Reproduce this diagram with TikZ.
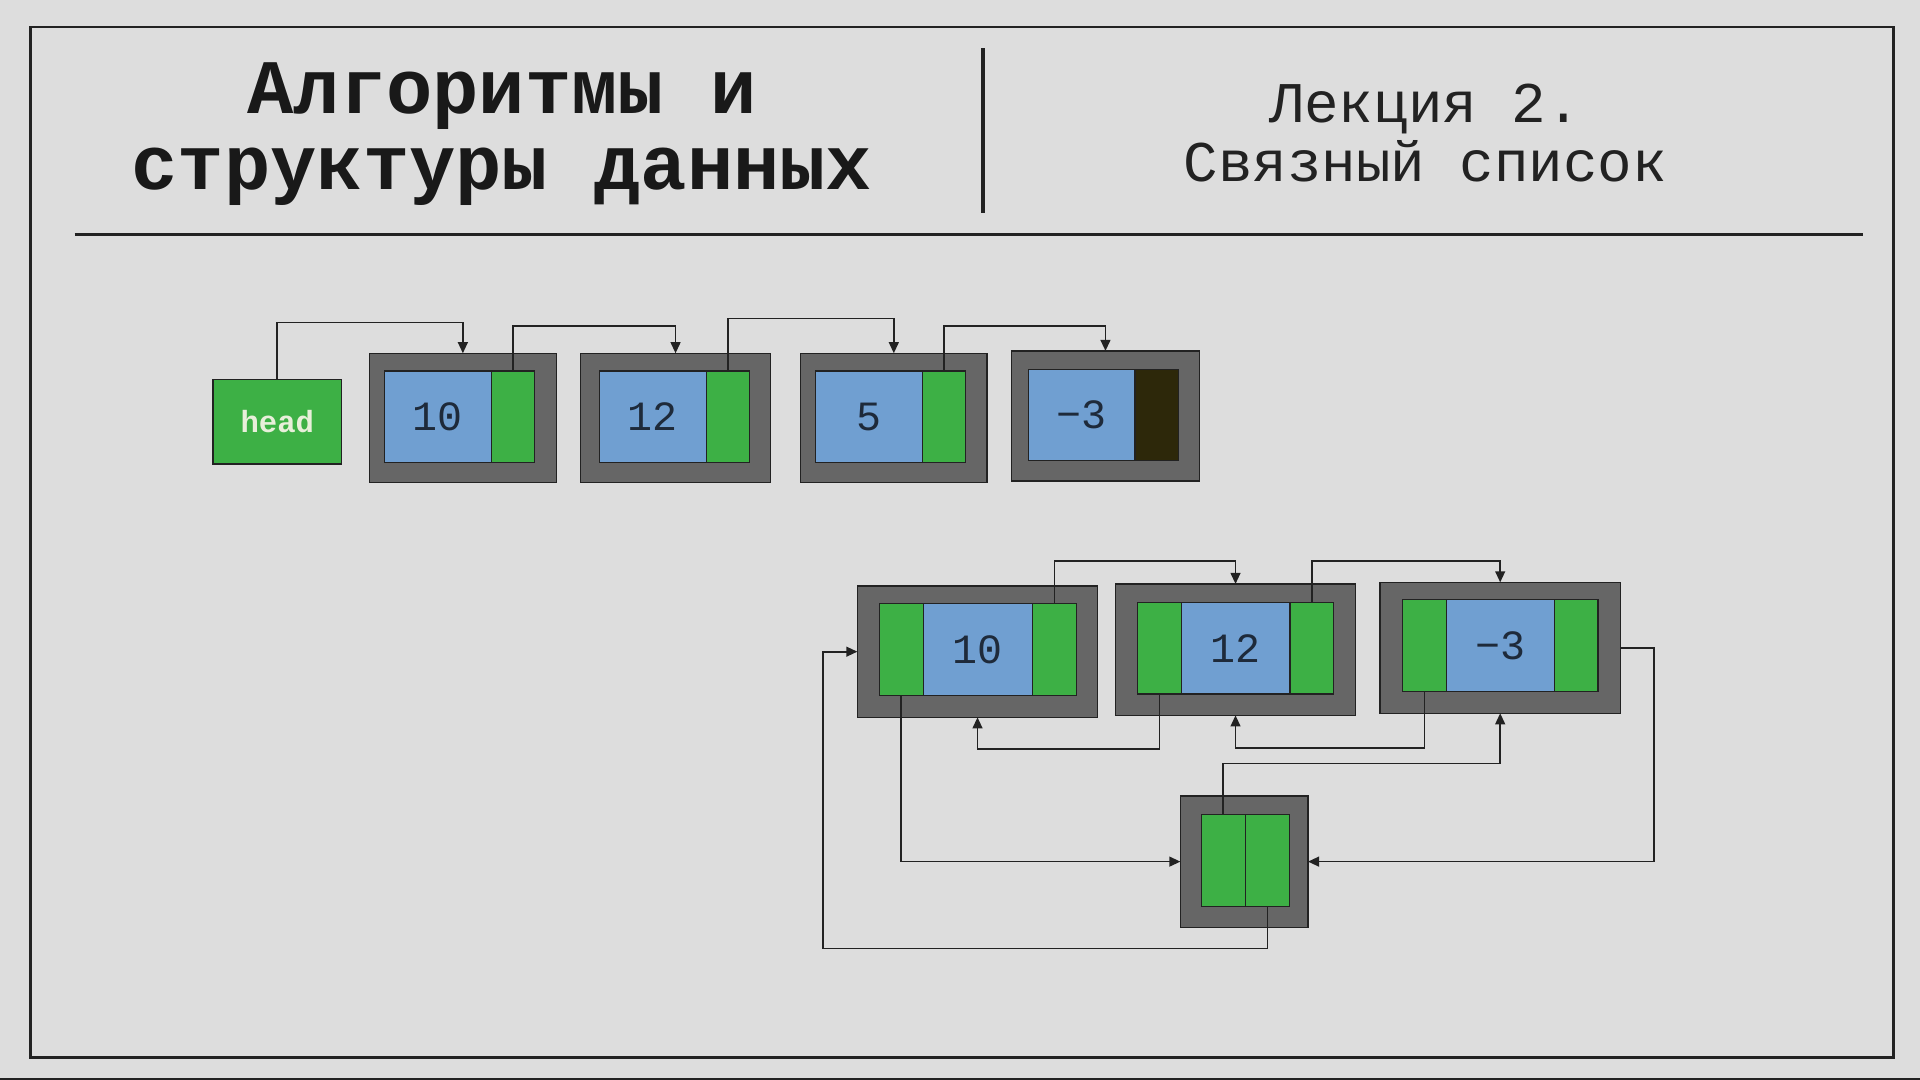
\documentclass[tikz,border=0pt]{standalone}
\usepackage{fontspec}
\newfontfamily\monof{Liberation Mono}
\usetikzlibrary{arrows.meta}
\definecolor{bgc}{HTML}{DDDDDD}
\definecolor{boxc}{HTML}{666666}
\definecolor{bluec}{HTML}{709FD1}
\definecolor{greenc}{HTML}{3DB045}
\definecolor{darkc}{HTML}{2D280A}
\definecolor{linec}{HTML}{222222}
\definecolor{headtxt}{HTML}{E8EFDA}
\definecolor{numc}{HTML}{1E2A3A}
\begin{document}
\begin{tikzpicture}[x=1pt,y=-1pt,
  box/.style={draw=linec, line width=1pt, inner sep=0pt, outer sep=0pt, anchor=center},
  outerbox/.style={box, fill=boxc},
  bluebox/.style={box, fill=bluec, text=numc, font=\monof\fontsize{34}{34}\selectfont},
  greenbox/.style={box, fill=greenc},
  darkbox/.style={box, fill=darkc},
  arr/.style={draw=linec, line width=1.4pt, -{Triangle[length=9pt,width=8pt]}},
  titlef/.style={font=\monof\bfseries\fontsize{63}{63}\selectfont, text=black!90, anchor=base, inner sep=0pt},
  subf/.style={font=\monof\fontsize{47}{47}\selectfont, text=linec, anchor=base, inner sep=0pt},
]
\fill[bgc] (0,0) rectangle (1568,882);
\useasboundingbox (0,0) rectangle (1568,882);
\fill[linec] (0,880) rectangle (1568,882);
% frame and rules
\draw[linec, line width=2.2pt] (25,22) rectangle (1546.5,863.5);
\draw[linec, line width=3pt] (61,191.5) -- (1521.5,191.5);
\draw[linec, line width=3pt] (803,39.5) -- (803,173.7);
% titles
\node[titlef] (t1) at (410,93) {Алгоритмы и};
\node[titlef] (t2) at (410,155) {структуры данных};
\node[subf] (s1) at (1164,100) {Лекция 2.};
\node[subf] (s2) at (1164,148) {Связный список};
% top list
\node[greenbox, minimum width=105pt, minimum height=69pt, text=headtxt, font=\monof\bfseries\fontsize{25}{25}\selectfont] (head) at (226.5,344.5) {head};
\node[outerbox, minimum width=152.4pt, minimum height=105.7pt] (n1o) at (378,341.35) {};
\node[bluebox, minimum width=87.4pt, minimum height=74.6pt] (n1v) at (357.5,340.3) {10};
\node[greenbox, minimum width=35pt, minimum height=74.6pt] (n1p) at (418.7,340.3) {};
\node[outerbox, minimum width=155pt, minimum height=105.7pt] (n2o) at (551.7,341.35) {};
\node[bluebox, minimum width=87.3pt, minimum height=74.6pt] (n2v) at (533.15,340.3) {12};
\node[greenbox, minimum width=35pt, minimum height=74.6pt] (n2p) at (594.3,340.3) {};
\node[outerbox, minimum width=152.1pt, minimum height=105.7pt] (n3o) at (729.95,341.35) {};
\node[bluebox, minimum width=87.1pt, minimum height=74.6pt] (n3v) at (709.65,340.3) {5};
\node[greenbox, minimum width=35.1pt, minimum height=74.6pt] (n3p) at (770.75,340.3) {};
\node[outerbox, minimum width=153.8pt, minimum height=106.2pt] (n4o) at (902.8,339.7) {};
\node[bluebox, minimum width=87.1pt, minimum height=74.3pt] (n4v) at (883.35,338.75) {−3};
\node[darkbox, minimum width=35.7pt, minimum height=74.3pt] (n4p) at (944.75,338.75) {};
\draw[arr] (head.north) -- ++(0,-46.7) -| (n1o.north);
\draw[arr] (n1p.north) -- ++(0,-36.8) -| (n2o.north);
\draw[arr] (n2p.north) -- ++(0,-43) -| (n3o.north);
\draw[arr] (n3p.north) -- ++(0,-36.8) -| (n4o.north);
% bottom list
\node[outerbox, minimum width=196.2pt, minimum height=107.2pt] (b1o) at (798.3,532.2) {};
\node[greenbox, minimum width=35.7pt, minimum height=75.1pt] (b1l) at (736.05,530.25) {};
\node[bluebox, minimum width=89.2pt, minimum height=75.1pt] (b1v) at (798.5,530.25) {10};
\node[greenbox, minimum width=36pt, minimum height=75.1pt] (b1r) at (861.1,530.25) {};
\node[outerbox, minimum width=196pt, minimum height=107.3pt] (b2o) at (1009,530.55) {};
\node[greenbox, minimum width=35.6pt, minimum height=74.9pt] (b2l) at (946.8,529.35) {};
\node[bluebox, minimum width=88.8pt, minimum height=74.9pt] (b2v) at (1009,529.35) {12};
\node[greenbox, minimum width=35.6pt, minimum height=74.9pt] (b2r) at (1071.2,529.35) {};
\node[outerbox, minimum width=196.5pt, minimum height=106.9pt] (b3o) at (1225.15,529.05) {};
\node[greenbox, minimum width=35.9pt, minimum height=74.9pt] (b3l) at (1163.25,527.15) {};
\node[bluebox, minimum width=88.2pt, minimum height=74.9pt] (b3v) at (1225.3,527.15) {−3};
\node[greenbox, minimum width=35.6pt, minimum height=74.9pt] (b3r) at (1287.2,527.15) {};
\node[outerbox, minimum width=104.2pt, minimum height=107.3pt] (so) at (1016.1,703.65) {};
\node[greenbox, minimum width=36pt, minimum height=75pt] (sl) at (999,702.5) {};
\node[greenbox, minimum width=36pt, minimum height=75pt] (sr) at (1035,702.5) {};
\draw[arr] (b1r.north) -- ++(0,-34.6) -| (b2o.north);
\draw[arr] (b2r.north) -- ++(0,-33.5) -| (b3o.north);
\draw[arr] (b2l.south) -- ++(0,44.6) -| (b1o.south);
\draw[arr] (b3l.south) -- ++(0,46.3) -| (b2o.south);
\draw[arr] (sl.north) -- ++(0,-41.5) -| (b3o.south);
\draw[arr] (b3o.east) -- ++(27.6,0) |- (so.east);
\draw[arr] (b1l.south) |- (so.west);
\draw[arr] (sr.south) -- ++(0,34.7) -| ([xshift=-28pt]b1o.west) -- (b1o.west);
\end{tikzpicture}
\end{document}
